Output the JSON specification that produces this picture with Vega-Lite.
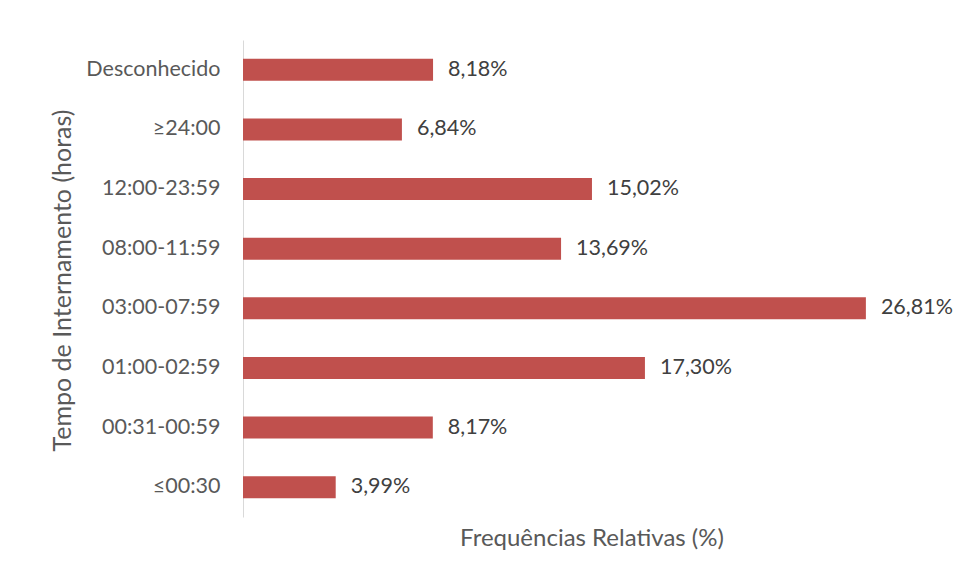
{
  "$schema": "https://vega.github.io/schema/vega-lite/v6.json",
  "width": 697,
  "height": 477,
  "autosize": {"type": "none"},
  "padding": {"left": 243, "top": 40, "right": 16, "bottom": 61},
  "background": "white",
  "config": {
    "view": {"stroke": null},
    "font": "Lato",
    "axis": {"labelFont": "Lato", "titleFont": "Lato", "titleFontWeight": "normal"}
  },
  "data": {
    "values": [
      {"tempo": "Desconhecido", "freq": 8.18, "label": "8,18%"},
      {"tempo": "≥24:00", "freq": 6.84, "label": "6,84%"},
      {"tempo": "12:00-23:59", "freq": 15.02, "label": "15,02%"},
      {"tempo": "08:00-11:59", "freq": 13.69, "label": "13,69%"},
      {"tempo": "03:00-07:59", "freq": 26.81, "label": "26,81%"},
      {"tempo": "01:00-02:59", "freq": 17.30, "label": "17,30%"},
      {"tempo": "00:31-00:59", "freq": 8.17, "label": "8,17%"},
      {"tempo": "≤00:30", "freq": 3.99, "label": "3,99%"}
    ]
  },
  "encoding": {
    "y": {
      "field": "tempo",
      "type": "nominal",
      "sort": ["Desconhecido", "≥24:00", "12:00-23:59", "08:00-11:59", "03:00-07:59", "01:00-02:59", "00:31-00:59", "≤00:30"],
      "scale": {"paddingInner": 0.63, "paddingOuter": 0.315},
      "axis": {
        "title": "Tempo de Internamento (horas)",
        "titleFontSize": 25,
        "titleColor": "#595959",
        "titleX": -181,
        "titleY": 240,
        "titleAngle": -90,
        "titleAlign": "center",
        "titleBaseline": "middle",
        "labelFontSize": 21.5,
        "labelColor": "#595959",
        "labelPadding": 23,
        "ticks": false,
        "domainColor": "#d9d9d9",
        "domainWidth": 1
      }
    },
    "x": {
      "field": "freq",
      "type": "quantitative",
      "scale": {"domain": [0, 30], "nice": false},
      "axis": {
        "title": "Frequências Relativas (%)",
        "titleFontSize": 24,
        "titleColor": "#595959",
        "titlePadding": 9,
        "labels": false,
        "ticks": false,
        "domain": false,
        "grid": false
      }
    }
  },
  "layer": [
    {"mark": {"type": "bar", "color": "#C0504D"}},
    {
      "mark": {"type": "text", "align": "left", "baseline": "middle", "dx": 15, "fontSize": 21.5, "color": "#404040"},
      "encoding": {"text": {"field": "label"}}
    }
  ]
}
